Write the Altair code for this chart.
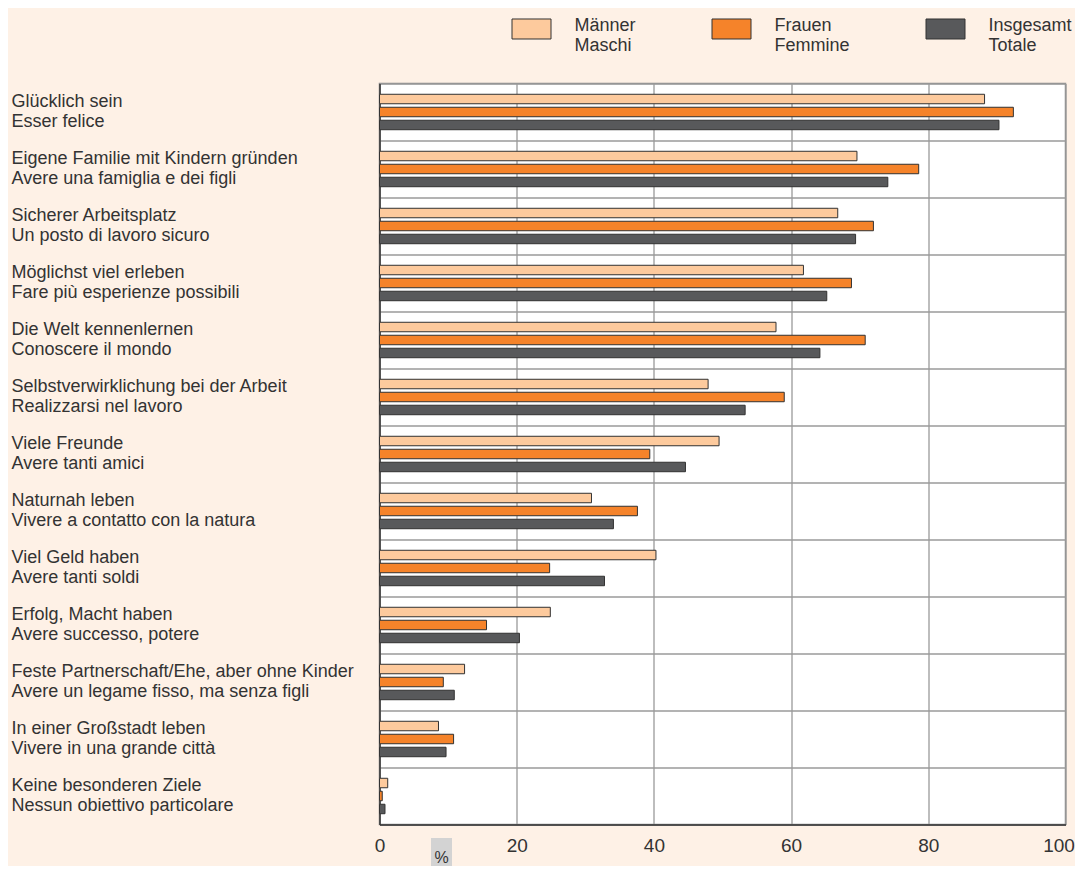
import altair as alt
import pandas as pd

categories = [
    "Glücklich sein|Esser felice",
    "Eigene Familie mit Kindern gründen|Avere una famiglia e dei figli",
    "Sicherer Arbeitsplatz|Un posto di lavoro sicuro",
    "Möglichst viel erleben|Fare più esperienze possibili",
    "Die Welt kennenlernen|Conoscere il mondo",
    "Selbstverwirklichung bei der Arbeit|Realizzarsi nel lavoro",
    "Viele Freunde|Avere tanti amici",
    "Naturnah leben|Vivere a contatto con la natura",
    "Viel Geld haben|Avere tanti soldi",
    "Erfolg, Macht haben|Avere successo, potere",
    "Feste Partnerschaft/Ehe, aber ohne Kinder|Avere un legame fisso, ma senza figli",
    "In einer Großstadt leben|Vivere in una grande città",
    "Keine besonderen Ziele|Nessun obiettivo particolare",
]
maenner = [88.2, 69.6, 66.8, 61.8, 57.8, 47.9, 49.5, 30.9, 40.3, 24.9, 12.4, 8.6, 1.2]
frauen = [92.4, 78.6, 72.0, 68.8, 70.8, 59.0, 39.4, 37.6, 24.8, 15.6, 9.3, 10.8, 0.4]
insgesamt = [90.3, 74.1, 69.4, 65.2, 64.2, 53.3, 44.6, 34.1, 32.8, 20.4, 10.9, 9.7, 0.8]
series = ["Männer|Maschi", "Frauen|Femmine", "Insgesamt|Totale"]
colors = ["#fdca9d", "#f5832a", "#58595b"]
x_ticks = [0, 20, 40, 60, 80, 100]
unit_label = ["%"]

rows = []
for s, vals in zip(series, [maenner, frauen, insgesamt]):
    for c, v in zip(categories, vals):
        rows.append({"category": c, "series": s, "value": v})
df = pd.DataFrame(rows)

FONT = "Liberation Sans"
TXT = "#333333"

legend_path = "M-1,-0.334L1,-0.334L1,0.692L-1,0.692Z"

x_enc = alt.X(
    "value:Q",
    scale=alt.Scale(domain=[0, 100], nice=False),
    axis=alt.Axis(
        values=x_ticks, ticks=False, title=None, labelFlush=False,
        labelFontSize=19, labelColor=TXT, labelFont=FONT, labelPadding=12,
        labelOffset={"condition": {"test": "datum.value == 100", "value": -7}, "value": 0},
        domainColor="#333333", domainWidth=1.5,
        gridColor="#9a9a9a", gridWidth=1.3,
    ),
)
y_enc = alt.Y(
    "category:N", sort=categories,
    scale=alt.Scale(paddingInner=0, paddingOuter=0),
    axis=alt.Axis(
        title=None, ticks=False, tickBand="extent", grid=True,
        labelExpr="split(datum.label, '|')",
        labelAlign="left", labelBaseline="middle", labelPadding=368.5,
        labelFontSize=18, labelLineHeight=20, labelLimit=420,
        labelColor=TXT, labelFont=FONT, labelOffset=-11,
        domainColor="#333333", domainWidth=1.5,
        gridColor="#9a9a9a", gridWidth=1.3,
    ),
)
yoff_enc = alt.YOffset(
    "series:N", sort=series,
    scale=alt.Scale(paddingInner=0.27, paddingOuter=0.83),
)

shadow = alt.Chart(df).mark_bar(
    color="#c4c4c4", opacity=0.7, x2Offset=2, y2Offset=2
).encode(x=x_enc, y=y_enc, yOffset=yoff_enc)

bars = alt.Chart(df).mark_bar(stroke="#333333", strokeWidth=1).encode(
    x=x_enc,
    y=y_enc,
    yOffset=yoff_enc,
    color=alt.Color(
        "series:N", sort=series,
        scale=alt.Scale(domain=series, range=colors),
        legend=alt.Legend(
            orient="none", legendX=132, legendY=-78, direction="horizontal",
            title=None, labelExpr="split(datum.label, '|')",
            symbolType=legend_path, symbolSize=1521,
            symbolStrokeColor="#333333", symbolStrokeWidth=1, symbolOpacity=1,
            labelFontSize=18, labelFont=FONT, labelColor=TXT,
            labelBaseline="middle", labelOffset=23,
            columnPadding=73, labelLimit=300, padding=0,
        ),
    ),
)

unit_df = pd.DataFrame({"u": unit_label})
unit_box = alt.Chart(unit_df).mark_rect(color="#d3d3d3").encode(
    x=alt.value(51.5), x2=alt.value(72.5),
    y=alt.value(754.5), y2=alt.value(792),
)
unit_text = alt.Chart(unit_df).mark_text(
    fontSize=16, font=FONT, color=TXT, align="center", baseline="middle"
).encode(
    x=alt.value(62), y=alt.value(774), text="u:N"
)

chart = alt.layer(shadow, bars, unit_box, unit_text).properties(
    width=686, height=741,
    background="#fef1e6",
    autosize=alt.AutoSizeParams(type="none"),
    padding={"left": 371.5, "top": 75.5, "right": 9.5, "bottom": 41},
).configure_view(
    stroke="#8c8c8c", strokeWidth=1.5, fill="white"
)

chart.save("out.html", embed_options={"renderer": "svg", "actions": False})
